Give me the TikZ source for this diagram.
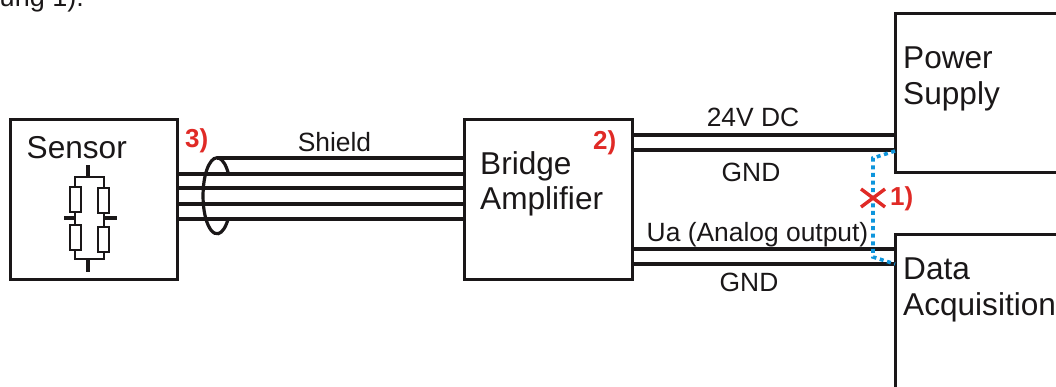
\documentclass[tikz,border=0pt]{standalone}
\usepackage{fontspec}
\setmainfont{Liberation Sans}
\definecolor{inkblack}{HTML}{1A1718}
\definecolor{markred}{HTML}{E02A26}
\definecolor{linkblue}{HTML}{0E95DC}
\tikzset{
    unitbox/.style={draw=inkblack, line width=3pt, inner sep=0pt, outer sep=0pt},
    resistor/.style={draw=inkblack, line width=2pt, inner sep=0pt, outer sep=0pt, minimum width=11pt, minimum height=25pt},
    boxlabel/.style={text=inkblack, anchor=north west, align=left, inner sep=0pt, font=\fontsize{31.6}{35.5}\selectfont},
    wirelabel/.style={text=inkblack, anchor=base, inner sep=0pt, font=\fontsize{26.4}{30}\selectfont},
    marklabel/.style={text=markred, anchor=base west, inner sep=0pt, font=\fontsize{26}{30}\selectfont\bfseries},
    wire/.style={draw=inkblack, line width=4pt},
    thinwire/.style={draw=inkblack, line width=3.2pt},
    bridgeline/.style={draw=inkblack, line width=2pt},
    stub/.style={draw=inkblack, line width=3.5pt},
}
\begin{document}
\begin{tikzpicture}[x=1pt, y=-1pt]
            \useasboundingbox (0,0) rectangle (1056,387);
            \clip (0,0) rectangle (1056,387);
            \node[text=inkblack, anchor=base east, inner sep=0pt, font=\fontsize{27}{30}\selectfont] (caption) at (84,6.5) {ung 1).};
            \node[unitbox, minimum width=167pt, minimum height=159pt] (sensor) at (93.5,199.5) {};
            \node[unitbox, minimum width=168pt, minimum height=159pt] (bridge) at (548,199.5) {};
            \node[unitbox, minimum width=175pt, minimum height=159pt] (power) at (982.5,93.5) {};
            \node[unitbox, minimum width=175pt, minimum height=170pt] (data) at (982.5,319) {};
            \node[boxlabel] (sensorlabel) at (26.5,136) {Sensor};
            \node[boxlabel] (bridgelabel) at (480,151) {Bridge\\Amplifier};
            \node[boxlabel] (powerlabel) at (903,47) {Power\\Supply};
            \node[boxlabel] (datalabel) at (903,258) {Data\\Acquisition};
            \node[wirelabel] (shieldlabel) at (334.5,152) {Shield};
            \node[wirelabel] (dclabel) at (753,127) {24V DC};
            \node[wirelabel] (gndtop) at (751,182) {GND};
            \node[wirelabel] (ualabel) at (757.5,241) {Ua (Analog output)};
            \node[wirelabel] (gndbottom) at (749,291) {GND};
            \node[marklabel] (markthree) at (185,148) {3)};
            \node[marklabel] (marktwo) at (593,150) {2)};
            \node[marklabel] (markone) at (890,206) {1)};
            \node[resistor] (rone) at (75,199.5) {};
            \node[resistor] (rtwo) at (103.5,200.5) {};
            \node[resistor] (rthree) at (75,237.5) {};
            \node[resistor] (rfour) at (103.5,239.5) {};
            \coordinate (topleft) at (75,177);
            \coordinate (topright) at (103.5,177);
            \coordinate (botleft) at (75,259);
            \coordinate (botright) at (103.5,259);
            \coordinate (topmid) at (88,177);
            \coordinate (botmid) at (88,259);
            \coordinate (shieldtop) at (217,158);
            \coordinate (shieldright) at (228.5,174);
            \coordinate (crossing) at (873,198);
            \draw[bridgeline] (rone.north) -- (topleft) -- (topright) -- (rtwo.north);
            \draw[bridgeline] (rthree.south) -- (botleft) -- (botright) -- (rfour.south);
            \draw[bridgeline] (rone.south) -- (rthree.north);
            \draw[bridgeline] (rtwo.south) -- (rfour.north);
            \draw[stub] (topmid) -- +(0,-12);
            \draw[stub] (botmid) -- +(0,13);
            \draw[stub] (75,218) -- +(-11,0);
            \draw[stub] (103.5,218) -- +(13,0);
            \foreach \wirey in {174,188,204,219}
                \draw[wire] (sensor.east |- 0,\wirey) -- (bridge.west |- 0,\wirey);
            \draw[wire] (shieldtop) -- (bridge.west |- shieldtop);
            \draw[draw=inkblack, line width=3.2pt] (shieldright) arc[start angle=-35, end angle=-325, x radius=14, y radius=38];
            \draw[wire] (bridge.east |- 0,135.5) -- (power.west |- 0,135.5);
            \draw[wire] (bridge.east |- 0,150) -- (power.west |- 0,150);
            \draw[thinwire] (bridge.east |- 0,249) -- (data.west |- 0,249);
            \draw[thinwire] (bridge.east |- 0,264) -- (data.west |- 0,264);
            \draw[draw=linkblue, line width=3.6pt, dash pattern=on 4pt off 3.6pt] (power.west |- 0,151) -- (873,158) -- (873,257) -- (data.west |- 0,264);
            \draw[draw=markred, line width=3.4pt] (crossing) +(-12,-9) -- +(12,9);
            \draw[draw=markred, line width=3.4pt] (crossing) +(-12,9) -- +(12,-9);
        \end{tikzpicture}
\end{document}
